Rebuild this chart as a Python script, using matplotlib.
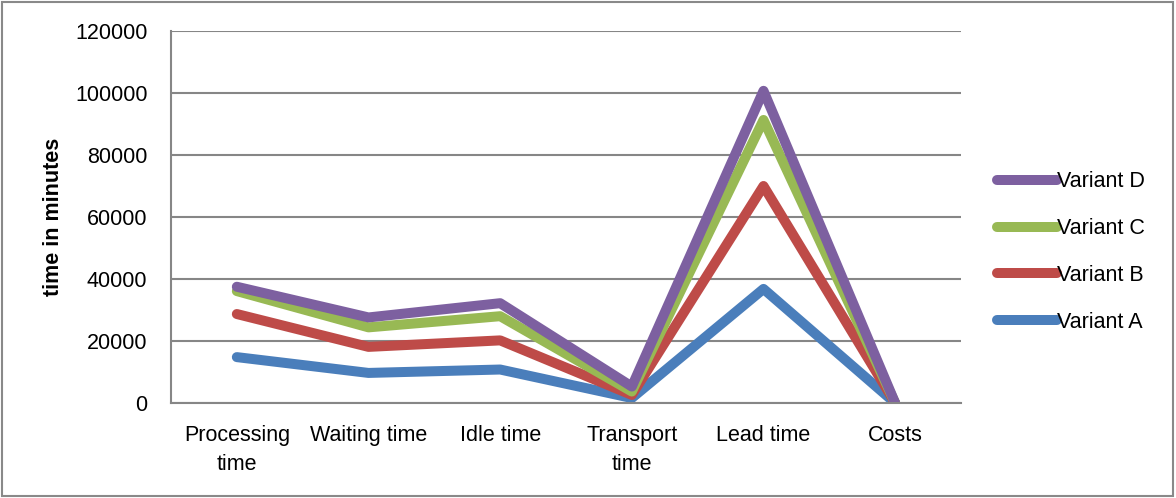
import matplotlib
matplotlib.use('Agg')
import matplotlib.pyplot as plt
from matplotlib.patches import Rectangle

categories = ['Processing\ntime', 'Waiting time', 'Idle time', 'Transport\ntime', 'Lead time', 'Costs']
variant_a = [14800, 9700, 10800, 1600, 36800, 0]
variant_b = [28700, 18100, 20200, 2600, 70000, 0]
variant_c = [36100, 24400, 28000, 3700, 91300, 0]
variant_d = [37500, 27600, 32200, 5300, 100700, 0]
y_ticks = [0, 20000, 40000, 60000, 80000, 100000, 120000]

plt.rcParams['font.family'] = ['Liberation Sans', 'DejaVu Sans']
FS = 15.5

fig = plt.figure(figsize=(11.76, 4.98), dpi=100)
ax = fig.add_axes([171 / 1176, 95 / 498, 790 / 1176, 372 / 498])

# outer chart border
fig.patches.append(Rectangle((2 / 1176, 2 / 498), 1171 / 1176, 494 / 498,
                             transform=fig.transFigure, fill=False,
                             edgecolor='#898989', linewidth=1.5))

x = range(len(categories))
series = [
    ('Variant A', variant_a, '#4a7ebb'),
    ('Variant B', variant_b, '#be4b48'),
    ('Variant C', variant_c, '#98b954'),
    ('Variant D', variant_d, '#7d60a0'),
]
for name, vals, color in series:
    ax.plot(x, vals, color=color, lw=7.2, label=name,
            solid_capstyle='round', solid_joinstyle='round')

ax.set_xlim(-0.5, len(categories) - 0.5)
ax.set_ylim(0, 120000)
ax.set_yticks(y_ticks)
ax.set_yticklabels([str(v) for v in y_ticks], fontsize=FS)
ax.set_xticks(list(x))
ax.set_xticklabels(categories, fontsize=FS, linespacing=1.5)
ax.tick_params(axis='x', length=0, pad=16)
ax.tick_params(axis='y', length=0, pad=17)
ax.grid(axis='y', color='#868686', lw=1.5)
ax.set_axisbelow(True)
for side in ['top', 'right']:
    ax.spines[side].set_visible(False)
for side in ['left', 'bottom']:
    ax.spines[side].set_color('#868686')
    ax.spines[side].set_linewidth(1.5)
ax.set_ylabel('time in minutes', fontsize=FS, fontweight='bold')
ax.yaxis.set_label_coords(-0.135, 0.5)

handles, labels = ax.get_legend_handles_labels()
ax.legend(handles[::-1], labels[::-1], loc='center left', bbox_to_anchor=(1.0456, 0.406),
          frameon=False, fontsize=FS, handlelength=2.8, handletextpad=0.0,
          labelspacing=1.2, borderpad=0, borderaxespad=0)

fig.savefig('out.png', dpi=100)
